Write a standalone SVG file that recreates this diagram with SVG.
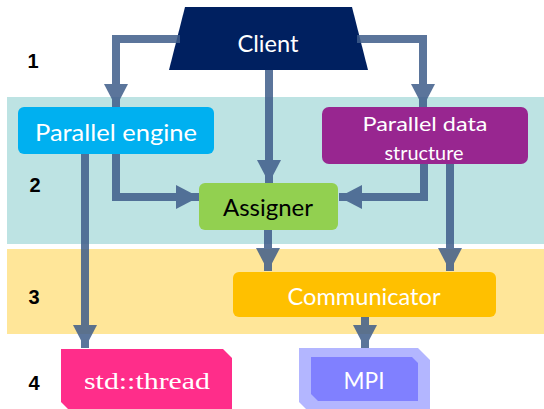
<svg xmlns="http://www.w3.org/2000/svg" width="544" height="409" viewBox="0 0 544 409">
<defs>
<style>
.lbl{font-family:"Lato","Noto Sans","DejaVu Sans",sans-serif;font-size:23px;fill:#fff;text-anchor:middle;dominant-baseline:central}
.num{font-family:"Liberation Sans",Arial,sans-serif;font-size:20px;font-weight:bold;fill:#000;text-anchor:middle;dominant-baseline:central}
.con{fill:none;stroke:#3f5d8a;stroke-width:8;stroke-linejoin:miter}
</style>
<marker id="ah" markerUnits="userSpaceOnUse" markerWidth="24" markerHeight="24" refX="23" refY="12" orient="auto">
<path d="M0,0 L23,12 L0,24 z" fill="#3f5d8a"/>
</marker>
</defs>
<rect x="0" y="0" width="544" height="409" fill="#fff"/>
<rect x="7" y="97" width="537" height="147" fill="#bde3e3"/>
<rect x="7" y="249" width="537" height="85" fill="#ffe699"/>
<text class="num" x="33" y="61">1</text>
<text class="num" x="35" y="185">2</text>
<text class="num" x="34" y="297">3</text>
<text class="num" x="34" y="383">4</text>
<g id="client">
<polygon points="185,7 352,7 368,70 169,70" fill="#002060"/>
<text class="lbl" x="268" y="43" textLength="61" lengthAdjust="spacingAndGlyphs">Client</text>
</g>
<g id="parallel-engine">
<rect x="18" y="107" width="196" height="47" rx="6" fill="#00b0f0"/>
<text class="lbl" x="116" y="132" textLength="162" lengthAdjust="spacingAndGlyphs">Parallel engine</text>
</g>
<g id="parallel-data-structure">
<rect x="322" y="107" width="206" height="57" rx="7" fill="#982690"/>
<text class="lbl" x="425" y="123" style="font-size:20px" textLength="125" lengthAdjust="spacingAndGlyphs">Parallel data</text>
<text class="lbl" x="424" y="152" style="font-size:20px" textLength="79" lengthAdjust="spacingAndGlyphs">structure</text>
</g>
<g id="assigner">
<rect x="199" y="183" width="139" height="47" rx="6" fill="#92d050"/>
<text class="lbl" x="268" y="207" style="fill:#000" textLength="90" lengthAdjust="spacingAndGlyphs">Assigner</text>
</g>
<g id="communicator">
<rect x="233" y="272" width="263" height="45" rx="6" fill="#ffc000"/>
<text class="lbl" x="364" y="296" textLength="153" lengthAdjust="spacingAndGlyphs">Communicator</text>
</g>
<g id="std-thread">
<polygon points="61,349 223,349 232,358 232,409 68,409 61,402" fill="#ff2d8a"/>
<text x="147" y="381" textLength="126" lengthAdjust="spacingAndGlyphs" style="font-family:'Liberation Serif','Times New Roman',serif;font-size:23px;fill:#fff;text-anchor:middle;dominant-baseline:central">std::thread</text>
</g>
<g id="mpi">
<polygon points="299,348 418,348 430,360 430,409 306,409 299,402" fill="#b3b6ff"/>
<polygon points="311,357 412,357 418,363 418,401 318,401 311,394" fill="#8080ff"/>
<text class="lbl" x="364" y="380" textLength="41" lengthAdjust="spacingAndGlyphs">MPI</text>
</g>
<g id="connectors" opacity="0.85">
<path class="con" d="M180,39 L116,39 L116,107" marker-end="url(#ah)"/>
<path class="con" d="M357,39 L423,39 L423,107" marker-end="url(#ah)"/>
<path class="con" d="M269,70 L269,183" marker-end="url(#ah)"/>
<path class="con" d="M116,154 L116,197 L199,197" marker-end="url(#ah)"/>
<path class="con" d="M424,164 L424,197 L339,197" marker-end="url(#ah)"/>
<path class="con" d="M85,154 L85,348" marker-end="url(#ah)"/>
<path class="con" d="M450,164 L450,271" marker-end="url(#ah)"/>
<path class="con" d="M268,230 L268,271" marker-end="url(#ah)"/>
<path class="con" d="M365,317 L365,348" marker-end="url(#ah)"/>
</g>
</svg>
